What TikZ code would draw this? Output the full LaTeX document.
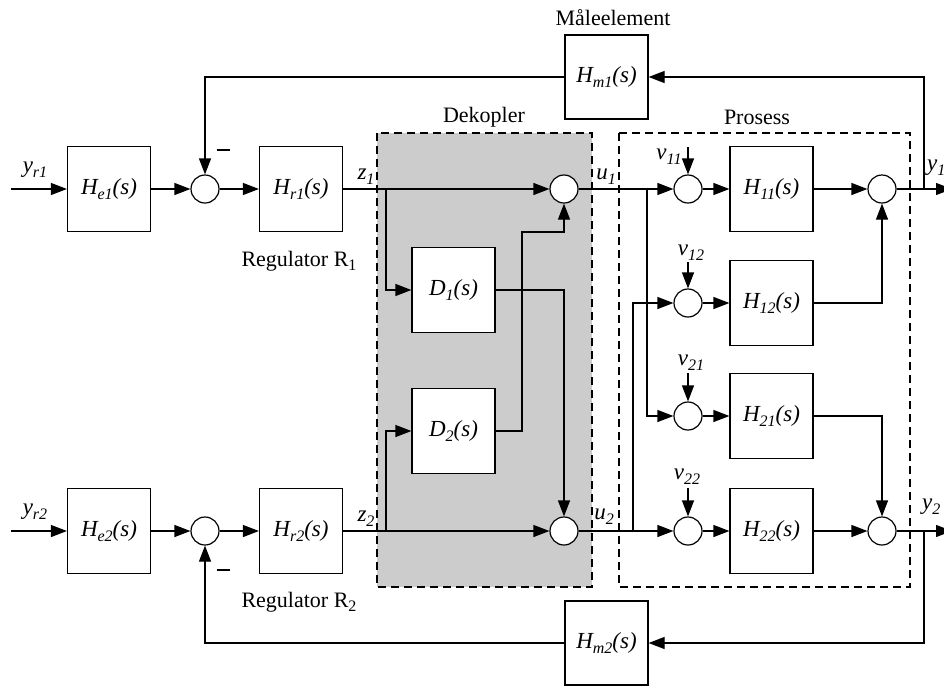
\documentclass[tikz,border=0pt]{standalone}
\usepackage{fontspec}
\setmainfont{Liberation Serif}
\usepackage{xcolor}
\definecolor{dekgray}{HTML}{CCCCCC}
\usepackage{tikz}
\usetikzlibrary{arrows.meta,positioning}
\newcommand{\idx}[1]{\raisebox{-0.45ex}{\fontsize{16}{16}\selectfont #1}}
\tikzset{
  blk/.style={draw, line width=1.2pt, fill=white, inner sep=0pt,
              minimum width=83pt, minimum height=85pt,
              font=\fontsize{23}{27}\selectfont\itshape},
  sm/.style={draw, circle, line width=1.2pt, fill=white, inner sep=0pt,
             minimum size=28pt},
  ar/.style={-{Triangle[length=16pt,width=12pt]}, line width=1.2pt},
  dbox/.style={draw, dash pattern=on 8pt off 5pt, line width=1.2pt},
  lbl/.style={inner sep=0pt, font=\fontsize{22}{26}\selectfont},
  sig/.style={inner sep=0pt, font=\fontsize{23}{27}\selectfont\itshape},
}

\begin{document}
\begin{tikzpicture}[x=1pt, y=-1pt]
  \useasboundingbox (0,0) rectangle (944,686);
  % dekopler og prosess
  \draw[dbox, fill=dekgray] (377,133) rectangle (592,587);
  \draw[dbox] (619,133) rectangle (910,587);
  \node[lbl] (dek) at (484,117) {Dekopler};
  \node[lbl] (pro) at (757,117) {Prosess};
  \node[lbl] (maal) at (613,18) {Måleelement};

  % sloyfe 1
  \coordinate (in1) at (11,189);
  \node[blk] (He1) at (109,189) {H\idx{e1}(s)};
  \node[sm]  (S1)  at (205,189) {};
  \node[blk] (Hr1) at (301,189) {H\idx{r1}(s)};
  \node[lbl] (reg1) at (299,261) {Regulator R\idx{1}};
  % sloyfe 2
  \coordinate (in2) at (11,531);
  \node[blk] (He2) at (109,531) {H\idx{e2}(s)};
  \node[sm]  (S2)  at (205,531) {};
  \node[blk] (Hr2) at (301,531) {H\idx{r2}(s)};
  \node[lbl] (reg2) at (299,602) {Regulator R\idx{2}};

  % dekopler
  \node[blk] (D1) at (453.5,290) {D\idx{1}(s)};
  \node[blk] (D2) at (453.5,431) {D\idx{2}(s)};
  \node[sm] (SD1) at (564,189) {};
  \node[sm] (SD2) at (564,531) {};

  % prosess
  \node[sm] (V11) at (688,189) {};
  \node[sm] (V12) at (688,303) {};
  \node[sm] (V21) at (688,416) {};
  \node[sm] (V22) at (688,531) {};
  \node[blk] (H11) at (771.5,189) {H\idx{11}(s)};
  \node[blk] (H12) at (771.5,303) {H\idx{12}(s)};
  \node[blk] (H21) at (771.5,416) {H\idx{21}(s)};
  \node[blk] (H22) at (771.5,531) {H\idx{22}(s)};
  \node[sm] (O1) at (882,189) {};
  \node[sm] (O2) at (882,531) {};

  % maaleelement
  \node[blk, minimum height=84pt] (Hm1) at (606.5,77) {H\idx{m1}(s)};
  \node[blk, minimum height=84pt] (Hm2) at (606.5,643) {H\idx{m2}(s)};

  % signalnavn
  \node[sig] (yr1) at (35,170) {y\idx{r1}};
  \node[sig] (yr2) at (35,512) {y\idx{r2}};
  \node[sig] (z1) at (366,177) {z\idx{1}};
  \node[sig] (z2) at (366,519) {z\idx{2}};
  \node[sig] (u1) at (606,177) {u\idx{1}};
  \node[sig] (u2) at (604,517) {u\idx{2}};
  \node[sig] (nv11) at (669,157) {v\idx{11}};
  \node[sig] (nv12) at (691,253) {v\idx{12}};
  \node[sig] (nv21) at (691,363) {v\idx{21}};
  \node[sig] (nv22) at (687,477) {v\idx{22}};
  \node[sig, anchor=west] (y1) at (927,168) {y\idx{1}};
  \node[sig, anchor=west] (y2) at (922,507) {y\idx{2}};
  \node[lbl] (neg1) at (223,150) {\rule{13pt}{1.5pt}};
  \node[lbl] (neg2) at (223,570) {\rule{13pt}{1.5pt}};

  % forbindelser
  \coordinate (b1) at (386,189);
  \coordinate (b2) at (386,531);
  \coordinate (k2) at (522,232);
  \coordinate (c1) at (647,189);
  \coordinate (c2) at (633,531);
  \coordinate (f1) at (924,189);
  \coordinate (f2) at (924,531);
  \coordinate (out1) at (952,189);
  \coordinate (out2) at (952,531);
  \coordinate (v11) at (688,147);
  \coordinate (v12) at (688,262);
  \coordinate (v21) at (688,373);
  \coordinate (v22) at (688,488);

  \draw[ar] (in1) -- (He1);
  \draw[ar] (He1) -- (S1);
  \draw[ar] (S1) -- (Hr1);
  \draw[ar] (Hr1) -- (SD1);
  \draw[ar] (in2) -- (He2);
  \draw[ar] (He2) -- (S2);
  \draw[ar] (S2) -- (Hr2);
  \draw[ar] (Hr2) -- (SD2);

  \draw[ar] (b1) |- (D1);
  \draw[ar] (b2) |- (D2);
  \draw[ar] (D1) -| (SD2);
  \draw[ar] (D2) -| (k2) -| (SD1);

  \draw[ar] (SD1) -- (V11);
  \draw[ar] (SD2) -- (V22);
  \draw[ar] (c1) |- (V21);
  \draw[ar] (c2) |- (V12);

  \draw[ar] (v11) -- (V11);
  \draw[ar] (v12) -- (V12);
  \draw[ar] (v21) -- (V21);
  \draw[ar] (v22) -- (V22);

  \draw[ar] (V11) -- (H11);
  \draw[ar] (V12) -- (H12);
  \draw[ar] (V21) -- (H21);
  \draw[ar] (V22) -- (H22);
  \draw[ar] (H11) -- (O1);
  \draw[ar] (H12) -| (O1);
  \draw[ar] (H21) -| (O2);
  \draw[ar] (H22) -- (O2);

  \draw[ar] (O1) -- (out1);
  \draw[ar] (O2) -- (out2);
  \draw[ar] (f1) |- (Hm1);
  \draw[ar] (f2) |- (Hm2);
  \draw[ar] (Hm1) -| (S1);
  \draw[ar] (Hm2) -| (S2);
\end{tikzpicture}
\end{document}
